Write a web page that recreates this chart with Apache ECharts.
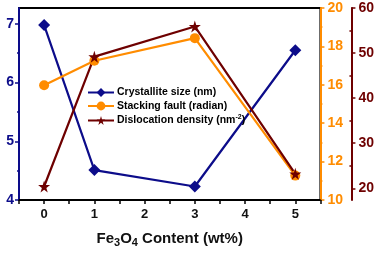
<!DOCTYPE html>
<html><head><meta charset="utf-8">
<script src="https://cdn.jsdelivr.net/npm/echarts@6/dist/echarts.min.js"></script>
<style>html,body{margin:0;padding:0;background:#fff}#c{width:377px;height:253px}</style>
</head><body><div id="c"></div>
<script>
const xValues = [0, 1, 3, 5];
const crystalliteSize = [6.98, 4.51, 4.23, 6.55];
const stackingFault = [15.98, 17.25, 18.43, 11.27];
const dislocationDensity = [20.4, 49.2, 55.9, 23.2];
const leftTicks = [4, 5, 6, 7];
const leftMinor = [4.5, 5.5, 6.5];
const orangeTicks = [10, 12, 14, 16, 18, 20];
const redTicks = [20, 30, 40, 50, 60];
const redMinor = [25, 35, 45, 55];
const seriesNames = ['Crystallite size (nm)', 'Stacking fault (radian)', 'Dislocation density (nm-2)'];

const NAVY = '#0c0c8a', ORANGE = '#ff8c00', RED = '#6e0000';
const FONT = 'Liberation Sans, Arial, sans-serif';
const pair = a => xValues.map((x, i) => [x, a[i]]);
const STAR = 'path://M50,0 L61,35 L98,35 L68,57 L79,91 L50,70 L21,91 L32,57 L2,35 L39,35 Z';

const chart = echarts.init(document.getElementById('c'), null, {renderer: 'canvas'});
chart.setOption({
  animation: false,
  textStyle: {fontFamily: FONT},
  grid: {left: 19, right: 56, top: 8, bottom: 41, show: true, borderColor: '#000', borderWidth: 2, backgroundColor: 'transparent'},
  legend: {
    orient: 'vertical', left: 87, top: 87, padding: 0, itemGap: 2.5, itemWidth: 26, itemHeight: 11,
    data: seriesNames,
    textStyle: {fontSize: 10.5, fontWeight: 'bold', color: '#000', fontFamily: FONT, padding: [0, 0, 0, -2],
      rich: {a: {fontSize: 10.5, fontWeight: 'bold', color: '#000', lineHeight: 13},
             s: {fontSize: 7, fontWeight: 'bold', color: '#000', verticalAlign: 'top', lineHeight: 8}}},
    formatter: n => n === seriesNames[2] ? '{a|Dislocation density (nm}{s|-2}{a|)}' : n
  },
  xAxis: {
    type: 'value', min: -0.5, max: 5.5, interval: 0.5,
    axisLine: {onZero: false, lineStyle: {color: '#000', width: 2}},
    axisTick: {show: true, length: 4, lineStyle: {color: '#000', width: 1.5}},
    splitLine: {show: false},
    axisLabel: {margin: 8, fontSize: 13, fontWeight: 'bold', color: '#111', fontFamily: FONT,
      formatter: v => Number.isInteger(v) ? String(v) : ''},
    name: 'Fe{sub|3}O{sub|4} Content (wt%)', nameLocation: 'middle', nameGap: 30,
    nameTextStyle: {fontSize: 15, fontWeight: 'bold', color: '#111', fontFamily: FONT,
      rich: {sub: {fontSize: 11, fontWeight: 'bold', color: '#111', padding: [7, 0, 0, 0]}}}
  },
  yAxis: [
    {type: 'value', position: 'left', min: 4, max: 7.27,
      axisLine: {show: true, onZero: false, lineStyle: {color: NAVY, width: 2}},
      axisTick: {show: true, length: 4, customValues: leftTicks, lineStyle: {color: NAVY, width: 1.5}},
      axisLabel: {customValues: leftTicks, margin: 5, fontSize: 14, fontWeight: 'bold', color: NAVY, fontFamily: FONT},
      splitLine: {show: false}},
    {type: 'value', position: 'right', offset: 0, min: 10, max: 20, interval: 2,
      axisLine: {show: true, onZero: false, lineStyle: {color: ORANGE, width: 2}},
      axisTick: {show: true, length: 4, lineStyle: {color: ORANGE, width: 1.5}},
      minorTick: {show: true, splitNumber: 2, length: 2, lineStyle: {color: ORANGE, width: 1.5}},
      axisLabel: {margin: 7, fontSize: 14, fontWeight: 'bold', color: ORANGE, fontFamily: FONT},
      splitLine: {show: false}},
    {type: 'value', position: 'right', offset: 31, min: 17.4, max: 60,
      axisLine: {show: true, onZero: false, lineStyle: {color: RED, width: 2}},
      axisTick: {show: true, length: 4, customValues: redTicks, lineStyle: {color: RED, width: 1.5}},
      axisLabel: {customValues: redTicks, margin: 7, fontSize: 14, fontWeight: 'bold', color: RED, fontFamily: FONT},
      splitLine: {show: false}},
    {type: 'value', position: 'left', min: 4, max: 7.27,
      axisLine: {show: false, onZero: false},
      axisTick: {show: true, length: 2, customValues: leftMinor, lineStyle: {color: NAVY, width: 1.5}},
      axisLabel: {show: false}, splitLine: {show: false}},
    {type: 'value', position: 'right', offset: 31, min: 17.4, max: 60,
      axisLine: {show: false, onZero: false},
      axisTick: {show: true, length: 2, inside: true, customValues: redMinor, lineStyle: {color: RED, width: 1.5}},
      axisLabel: {show: false}, splitLine: {show: false}}
  ],
  series: [
    {name: seriesNames[0], type: 'line', yAxisIndex: 0, data: pair(crystalliteSize), color: NAVY,
      symbol: 'diamond', symbolSize: 12, lineStyle: {width: 2.2, color: NAVY}, itemStyle: {color: NAVY}},
    {name: seriesNames[1], type: 'line', yAxisIndex: 1, data: pair(stackingFault), color: ORANGE,
      symbol: 'circle', symbolSize: 10, lineStyle: {width: 2.2, color: ORANGE}, itemStyle: {color: ORANGE}},
    {name: seriesNames[2], type: 'line', yAxisIndex: 2, data: pair(dislocationDensity), color: RED,
      symbol: STAR, symbolSize: 12, lineStyle: {width: 2.2, color: RED}, itemStyle: {color: RED}}
  ]
});
</script></body></html>
